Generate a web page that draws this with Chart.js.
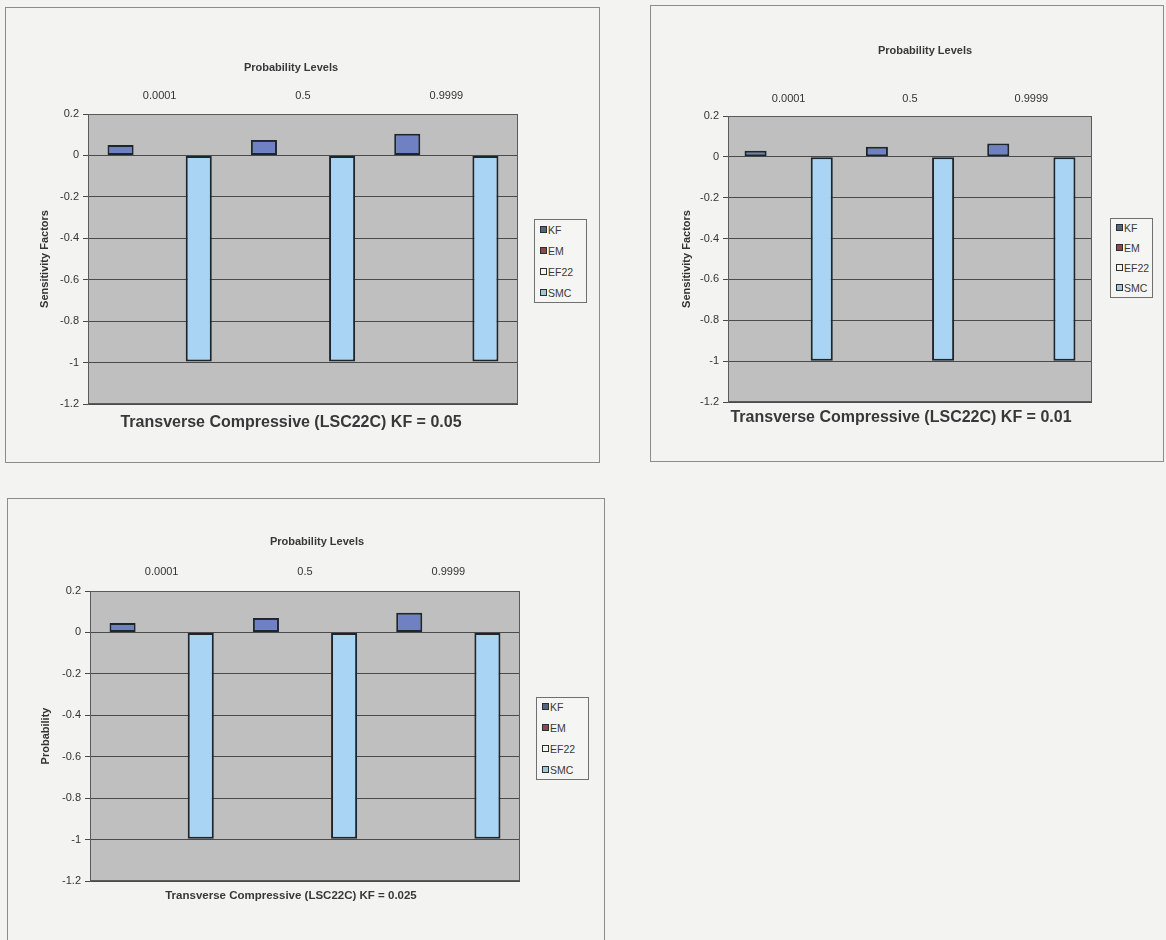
<!DOCTYPE html>
<html>
<head>
<meta charset="utf-8">
<title>Transverse Compressive (LSC22C) sensitivity factors</title>
<script src="https://cdn.jsdelivr.net/npm/chart.js@4.4.1/dist/chart.umd.min.js"></script>
<style>
  html, body {
    margin: 0; padding: 0; width: 1166px; height: 940px; overflow: hidden;
    background: #f3f3f1;
    font-family: "Liberation Sans", Arial, sans-serif; color: #333;
  }
  .frame { position: absolute; border: 1px solid #8c8c8c; box-sizing: border-box; }
  canvas { position: absolute; }
  .txt { position: absolute; white-space: nowrap; transform: translate(-50%, -50%); font-weight: bold; color: #383838; }
  .legend { position: absolute; border: 1px solid #707070; box-sizing: border-box; background: #f5f5f3; }
  .legend .item { position: absolute; font-size: 10.5px; line-height: 12px; height: 12px; white-space: nowrap; color: #3a3a3a; }
  .legend .sw { position: absolute; top: 2px; width: 7px; height: 7px; box-sizing: border-box; border: 1.8px solid #2b2f33; }
  .legend .name { position: absolute; top: 0; color: #3a3a3a; }
</style>
</head>
<body>
<script>
// Probability levels along the category axis
const probabilityLevels = ['0.0001', '0.5', '0.9999'];
// Random variables whose sensitivity factors are plotted
const seriesNames = ['KF', 'EM', 'EF22', 'SMC'];

// KF = 0.05
const kfSensitivity005   = [0.05, 0.075, 0.105];
const emSensitivity005   = [0, 0, 0];
const ef22Sensitivity005 = [0, 0, 0];
const smcSensitivity005  = [-0.995, -0.995, -0.995];

// KF = 0.01
const kfSensitivity001   = [0.03, 0.05, 0.065];
const emSensitivity001   = [0, 0, 0];
const ef22Sensitivity001 = [0, 0, 0];
const smcSensitivity001  = [-0.998, -0.998, -0.998];

// KF = 0.025
const kfSensitivity0025   = [0.045, 0.07, 0.095];
const emSensitivity0025   = [0, 0, 0];
const ef22Sensitivity0025 = [0, 0, 0];
const smcSensitivity0025  = [-0.996, -0.996, -0.996];

// Value axis range and step
const yMin = -1.2;
const yMax = 0.2;
const yStep = 0.2;

const categoryAxisTitle = 'Probability Levels';
const captions = [
  'Transverse Compressive (LSC22C) KF = 0.05',
  'Transverse Compressive (LSC22C) KF = 0.01',
  'Transverse Compressive (LSC22C) KF = 0.025'
];
const valueAxisTitles = ['Sensitivity Factors', 'Sensitivity Factors', 'Probability'];

// Fill colours per series
const seriesColors = ['#6f81c2', '#8c4a5c', '#f4f4e2', '#a9d4f3'];
const legendSwatchColors = ['#56657e', '#8c4a4f', '#f4f4ee', '#9ec8d4'];

Chart.defaults.font.family = '"Liberation Sans", Arial, sans-serif';
Chart.defaults.color = '#333';

// Grey plot background plus a border round the plot area
const plotFrame = {
  id: 'plotFrame',
  beforeDraw(chart) {
    const { ctx, chartArea: a } = chart;
    ctx.save();
    ctx.fillStyle = '#bfbfbf';
    ctx.fillRect(a.left, a.top, a.right - a.left, a.bottom - a.top);
    ctx.restore();
  },
  afterDraw(chart) {
    const { ctx, chartArea: a } = chart;
    ctx.save();
    ctx.strokeStyle = '#5a5a5a';
    ctx.lineWidth = 1;
    ctx.strokeRect(Math.round(a.left) + 0.5, Math.round(a.top) + 0.5,
                   Math.round(a.right - a.left) - 1, Math.round(a.bottom - a.top) - 1);
    ctx.restore();
  }
};

const panels = [
  {
    series: [kfSensitivity005, emSensitivity005, ef22Sensitivity005, smcSensitivity005],
    caption: captions[0], yTitle: valueAxisTitles[0],
    frame: { x: 5, y: 7, w: 595, h: 456 },
    plot: { l: 88, t: 114, r: 518, b: 404 },
    catPad: 11.5, yTitleX: 45,
    axisTitlePos: { x: 291, y: 67 }, axisTitleSize: 11,
    captionPos: { x: 291, y: 421.5 }, captionSize: 16,
    legend: { x: 534, y: 219, w: 53, h: 84 }
  },
  {
    series: [kfSensitivity001, emSensitivity001, ef22Sensitivity001, smcSensitivity001],
    caption: captions[1], yTitle: valueAxisTitles[1],
    frame: { x: 650, y: 5, w: 514, h: 457 },
    plot: { l: 728, t: 116, r: 1092, b: 402 },
    catPad: 10.5, yTitleX: 687,
    axisTitlePos: { x: 925, y: 50 }, axisTitleSize: 11,
    captionPos: { x: 901, y: 417 }, captionSize: 16,
    legend: { x: 1110, y: 218, w: 43, h: 80 }
  },
  {
    series: [kfSensitivity0025, emSensitivity0025, ef22Sensitivity0025, smcSensitivity0025],
    caption: captions[2], yTitle: valueAxisTitles[2],
    frame: { x: 7, y: 498, w: 598, h: 450 },
    plot: { l: 90, t: 591, r: 520, b: 881 },
    catPad: 12, yTitleX: 46,
    axisTitlePos: { x: 317, y: 541 }, axisTitleSize: 11,
    captionPos: { x: 291, y: 894.5 }, captionSize: 11.5,
    legend: { x: 536, y: 697, w: 53, h: 83 }
  }
];

function addText(text, pos, size) {
  const d = document.createElement('div');
  d.className = 'txt';
  d.style.left = pos.x + 'px';
  d.style.top = pos.y + 'px';
  d.style.fontSize = size + 'px';
  d.textContent = text;
  document.body.appendChild(d);
}

function addLegend(box) {
  const lg = document.createElement('div');
  lg.className = 'legend';
  lg.style.left = box.x + 'px';
  lg.style.top = box.y + 'px';
  lg.style.width = box.w + 'px';
  lg.style.height = box.h + 'px';
  const step = box.h / seriesNames.length;
  seriesNames.forEach((name, i) => {
    const it = document.createElement('div');
    it.className = 'item';
    it.style.left = '4px';
    it.style.top = (step * (i + 0.5) - 6 - 1) + 'px';
    const sw = document.createElement('span');
    sw.className = 'sw';
    sw.style.left = '1px';
    sw.style.background = legendSwatchColors[i];
    const nm = document.createElement('span');
    nm.className = 'name';
    nm.style.left = '9px';
    nm.textContent = name;
    it.appendChild(sw);
    it.appendChild(nm);
    lg.appendChild(it);
  });
  document.body.appendChild(lg);
}

// Tick text in the style "0.2", "0", "-1", "-1.2"
function formatTick(value) {
  return String(Math.round(value * 10) / 10);
}

function drawPanel(p) {
  const fr = document.createElement('div');
  fr.className = 'frame';
  fr.style.left = p.frame.x + 'px';
  fr.style.top = p.frame.y + 'px';
  fr.style.width = p.frame.w + 'px';
  fr.style.height = p.frame.h + 'px';
  document.body.appendChild(fr);

  const canvas = document.createElement('canvas');
  canvas.width = p.frame.w;
  canvas.height = p.frame.h;
  canvas.style.left = p.frame.x + 'px';
  canvas.style.top = p.frame.y + 'px';
  canvas.style.width = p.frame.w + 'px';
  canvas.style.height = p.frame.h + 'px';
  document.body.appendChild(canvas);

  new Chart(canvas, {
    type: 'bar',
    data: {
      labels: probabilityLevels,
      datasets: seriesNames.map((name, i) => ({
        label: name,
        data: p.series[i],
        backgroundColor: seriesColors[i],
        borderColor: '#1c262c',
        borderWidth: 2,
        borderSkipped: false,
        categoryPercentage: 4 / 5.5,
        barPercentage: 1
      }))
    },
    options: {
      responsive: false,
      animation: false,
      devicePixelRatio: 1,
      layout: {
        padding: {
          left: 0,
          top: 0,
          right: p.frame.x + p.frame.w - p.plot.r,
          bottom: p.frame.y + p.frame.h - p.plot.b
        }
      },
      plugins: {
        legend: { display: false },
        tooltip: { enabled: false },
        title: { display: false }
      },
      scales: {
        x: {
          position: 'top',
          grid: { display: false, drawTicks: false },
          border: { display: false },
          ticks: { padding: p.catPad, color: '#333', font: { size: 11 }, maxRotation: 0 },
          afterFit(scale) { scale.height = p.plot.t - p.frame.y; }
        },
        y: {
          min: yMin,
          max: yMax,
          ticks: { stepSize: yStep, padding: 4, color: '#333', font: { size: 11 }, callback: formatTick },
          grid: { color: '#4a4a4a', tickColor: '#4a4a4a', tickLength: 5, lineWidth: 1 },
          border: { display: true, color: '#5a5a5a' },
          title: {
            display: true,
            text: p.yTitle,
            color: '#333',
            font: { size: 11, weight: 'bold' },
            padding: { top: p.yTitleX - p.frame.x - 6.6, bottom: 0 }
          },
          afterFit(scale) { scale.width = p.plot.l - p.frame.x; }
        }
      }
    },
    plugins: [plotFrame]
  });

  addText(categoryAxisTitle, p.axisTitlePos, p.axisTitleSize);
  addText(p.caption, p.captionPos, p.captionSize);
  addLegend(p.legend);
}

panels.forEach(drawPanel);
</script>
</body>
</html>
